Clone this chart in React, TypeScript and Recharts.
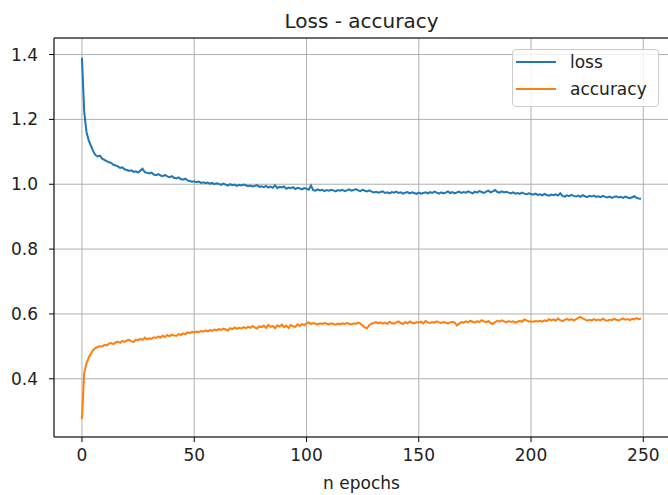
import React from 'react';
import {
  LineChart,
  Line,
  XAxis,
  YAxis,
  CartesianGrid,
  ReferenceLine,
  Legend,
} from 'recharts';

// values, one per epoch
const lossValues = [
  1.390, 1.225, 1.162, 1.135, 1.118, 1.102, 1.090, 1.086, 1.088, 1.079,
  1.075, 1.071, 1.068, 1.066, 1.060, 1.058, 1.055, 1.050, 1.052, 1.046,
  1.044, 1.041, 1.043, 1.038, 1.040, 1.036, 1.042, 1.048, 1.037, 1.035,
  1.033, 1.036, 1.030, 1.028, 1.031, 1.027, 1.025, 1.029, 1.024, 1.022,
  1.025, 1.020, 1.018, 1.021, 1.016, 1.014, 1.017, 1.012, 1.010, 1.008,
  1.009, 1.006, 1.008, 1.004, 1.006, 1.003, 1.005, 1.002, 1.004, 1.000,
  1.003, 1.001, 0.998, 1.002, 0.999, 0.996, 1.000, 0.997, 0.999, 0.995,
  0.998, 0.996, 0.999, 0.997, 0.994, 0.996, 0.993, 0.995, 0.997, 0.992,
  0.994, 0.991, 0.995, 0.990, 0.993, 0.989, 0.997, 0.988, 0.992, 0.990,
  0.993, 0.986, 0.990, 0.988, 0.991, 0.985, 0.989, 0.987, 0.984, 0.988,
  0.986, 0.983, 0.996, 0.982, 0.980, 0.984, 0.981, 0.983, 0.979, 0.982,
  0.980, 0.983, 0.981, 0.978, 0.982, 0.980, 0.983, 0.979, 0.981, 0.984,
  0.980, 0.982, 0.985, 0.981, 0.979, 0.983, 0.980, 0.978, 0.981, 0.977,
  0.975, 0.977, 0.974, 0.976, 0.978, 0.973, 0.975, 0.972, 0.976, 0.974,
  0.977, 0.973, 0.975, 0.971, 0.974, 0.976, 0.972, 0.975, 0.973, 0.970,
  0.974, 0.971, 0.973, 0.975, 0.972, 0.976, 0.973, 0.977, 0.974, 0.971,
  0.975, 0.972, 0.974, 0.978, 0.973, 0.976, 0.972, 0.975, 0.977, 0.973,
  0.976, 0.974, 0.978, 0.975, 0.972, 0.977, 0.974, 0.979, 0.976, 0.973,
  0.977, 0.980, 0.975, 0.978, 0.982, 0.976, 0.974, 0.978, 0.975, 0.977,
  0.974, 0.972, 0.975, 0.971, 0.973, 0.970, 0.974, 0.971, 0.969, 0.972,
  0.970, 0.968, 0.971, 0.967, 0.969, 0.966, 0.970, 0.967, 0.965, 0.968,
  0.966, 0.969, 0.965, 0.972, 0.964, 0.962, 0.966, 0.963, 0.967, 0.964,
  0.962, 0.965, 0.961, 0.966, 0.963, 0.960, 0.964, 0.962, 0.965, 0.961,
  0.963, 0.960, 0.964, 0.961, 0.959, 0.962, 0.958, 0.961, 0.963, 0.959,
  0.961, 0.958, 0.962, 0.959, 0.957, 0.960, 0.963, 0.958, 0.956, 0.955,
];

const accuracyValues = [
  0.276, 0.418, 0.447, 0.465, 0.478, 0.489, 0.495, 0.498, 0.501, 0.499,
  0.505, 0.503, 0.508, 0.510, 0.507, 0.512, 0.515, 0.511, 0.517, 0.514,
  0.518, 0.520, 0.516, 0.513, 0.521, 0.519, 0.523, 0.520, 0.527, 0.522,
  0.525, 0.523, 0.528, 0.526, 0.531, 0.527, 0.533, 0.529, 0.535, 0.531,
  0.536, 0.534, 0.532, 0.538, 0.535, 0.540, 0.537, 0.543, 0.541, 0.545,
  0.543, 0.546, 0.544, 0.547, 0.545, 0.549, 0.546, 0.550, 0.548, 0.552,
  0.549, 0.553, 0.551, 0.555, 0.552, 0.549, 0.556, 0.553, 0.558, 0.554,
  0.557, 0.555, 0.559, 0.556, 0.561, 0.557, 0.563, 0.558, 0.555, 0.562,
  0.559, 0.564, 0.557, 0.566, 0.560, 0.563, 0.556, 0.565, 0.561, 0.567,
  0.559, 0.564, 0.557, 0.566, 0.562, 0.560, 0.568, 0.563, 0.569, 0.565,
  0.571, 0.574, 0.569, 0.572, 0.570, 0.568, 0.571, 0.569, 0.572, 0.570,
  0.568, 0.571, 0.569, 0.567, 0.570, 0.568, 0.571, 0.569, 0.572, 0.570,
  0.568, 0.571, 0.569, 0.573, 0.570, 0.564, 0.558, 0.556, 0.566, 0.570,
  0.572, 0.575, 0.571, 0.574, 0.570, 0.573, 0.569, 0.576, 0.572, 0.570,
  0.574, 0.577, 0.572, 0.569, 0.575, 0.571, 0.577, 0.573, 0.571, 0.575,
  0.573, 0.576, 0.571, 0.578, 0.574, 0.572, 0.575, 0.573, 0.577, 0.574,
  0.572, 0.575, 0.573, 0.571, 0.574, 0.576, 0.573, 0.565, 0.570, 0.575,
  0.573, 0.577, 0.574, 0.579, 0.576, 0.573, 0.578, 0.575, 0.581, 0.577,
  0.574, 0.578, 0.572, 0.569, 0.575, 0.579, 0.576, 0.580, 0.577, 0.574,
  0.578, 0.575, 0.577, 0.573, 0.576, 0.579, 0.576, 0.583, 0.580, 0.577,
  0.577, 0.576, 0.578, 0.577, 0.579, 0.576, 0.580, 0.578, 0.584, 0.580,
  0.583, 0.579, 0.586, 0.581, 0.578, 0.582, 0.585, 0.581, 0.584, 0.580,
  0.583, 0.588, 0.591, 0.586, 0.583, 0.579, 0.582, 0.580, 0.584, 0.581,
  0.583, 0.580, 0.585, 0.581, 0.579, 0.583, 0.581, 0.585, 0.582, 0.580,
  0.583, 0.586, 0.582, 0.584, 0.581, 0.585, 0.583, 0.587, 0.584, 0.586,
];

const seriesNames = ['loss', 'accuracy'];
const seriesColors = ['#1f77b4', '#ff7f0e'];
const xTicks = [0, 50, 100, 150, 200, 250];
const yTicks = [0.4, 0.6, 0.8, 1.0, 1.2, 1.4];
const xDomain = [-12.45, 261.45];
const yDomain = [0.2205, 1.451];

const data = lossValues.map((loss, i) => ({
  epoch: i,
  loss,
  accuracy: accuracyValues[i],
}));

const FONT = '"DejaVu Sans", sans-serif';
const TEXT = '#222';

// matplotlib-style legend box, kept in series order
const LegendBox = ({ payload }: any) => {
  const items = [...(payload || [])].sort(
    (a: any, b: any) => seriesNames.indexOf(a.value) - seriesNames.indexOf(b.value)
  );
  return (
    <div
      style={{
        position: 'relative',
        width: 147,
        height: 58,
        boxSizing: 'border-box',
        background: 'rgba(255,255,255,0.8)',
        border: '1px solid #cccccc',
        borderRadius: 4,
        fontFamily: FONT,
        fontSize: 17,
        color: TEXT,
      }}
    >
      {items.map((item: any, i: number) => (
        <div key={item.value} style={{ position: 'absolute', left: 0, top: 2 + i * 27, height: 20, width: '100%' }}>
          <span style={{ position: 'absolute', left: 3, top: 9, width: 40, height: 2, background: item.color }} />
          <span style={{ position: 'absolute', left: 57, top: 0, lineHeight: '20px', whiteSpace: 'nowrap' }}>{item.value}</span>
        </div>
      ))}
    </div>
  );
};

export default function App() {
  return (
    <div style={{ position: 'absolute', left: 0, top: 0, width: 668, height: 495, overflow: 'hidden', background: '#fff' }}>
      <div
        style={{
          position: 'absolute', left: 54, top: 9, width: 615, textAlign: 'center',
          fontFamily: FONT, fontSize: 20, lineHeight: '24px', color: TEXT,
        }}
      >
        Loss - accuracy
      </div>
      <LineChart width={669} height={495} data={data} margin={{ top: 38, right: 0, bottom: 28, left: 4 }}>
        <CartesianGrid stroke="#b0b0b0" strokeWidth={1} />
        <XAxis
          dataKey="epoch"
          type="number"
          domain={xDomain}
          ticks={xTicks}
          interval={0}
          allowDataOverflow
          height={30}
          stroke="#000"
          tickSize={5}
          tickMargin={7}
          tick={{ fill: TEXT, fontSize: 17, fontFamily: FONT }}
        />
        <YAxis
          type="number"
          domain={yDomain}
          ticks={yTicks}
          interval={0}
          allowDataOverflow
          width={50}
          stroke="#000"
          tickSize={5}
          tickMargin={11}
          tickFormatter={(v: number) => v.toFixed(1)}
          tick={{ fill: TEXT, fontSize: 17, fontFamily: FONT }}
        />
        <ReferenceLine y={yDomain[1]} stroke="#000" strokeWidth={1} />
        <Legend
          layout="vertical"
          align="center"
          verticalAlign="middle"
          content={<LegendBox />}
          wrapperStyle={{ left: 512, top: 49, width: 147, height: 58 }}
        />
        <Line type="linear" dataKey="loss" name={seriesNames[0]} stroke={seriesColors[0]} strokeWidth={2} dot={false} isAnimationActive={false} />
        <Line type="linear" dataKey="accuracy" name={seriesNames[1]} stroke={seriesColors[1]} strokeWidth={2} dot={false} isAnimationActive={false} />
      </LineChart>
      <div
        style={{
          position: 'absolute', left: 54, top: 473, width: 615, textAlign: 'center',
          fontFamily: FONT, fontSize: 17, lineHeight: '20px', color: TEXT,
        }}
      >
        n epochs
      </div>
    </div>
  );
}
